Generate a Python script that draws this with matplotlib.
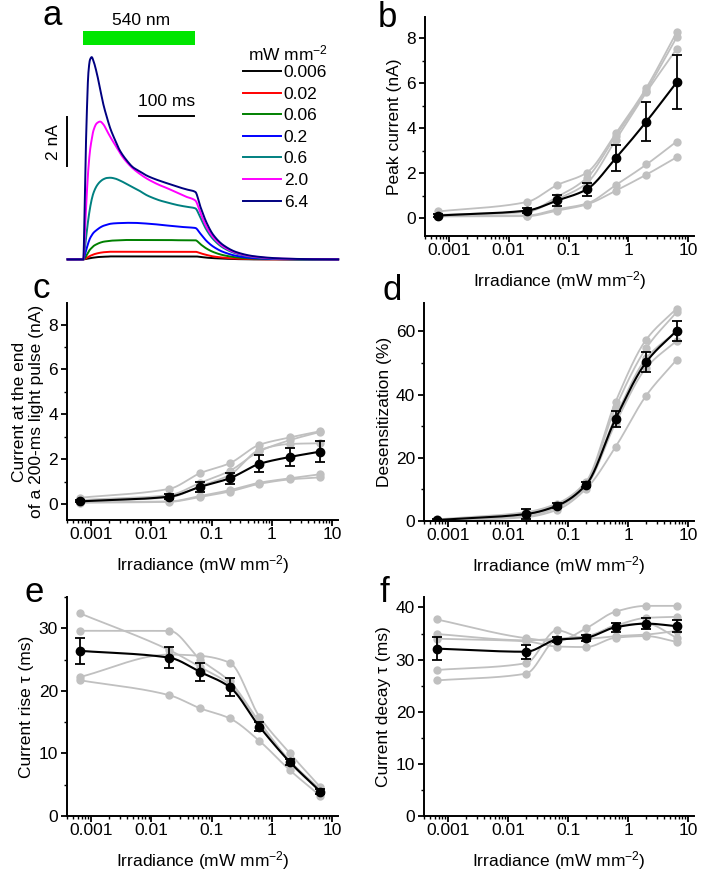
import numpy as np
import matplotlib
matplotlib.use("Agg")
import matplotlib.pyplot as plt
from matplotlib.patches import Rectangle
from matplotlib.ticker import FixedLocator, FixedFormatter, LogLocator, MultipleLocator, NullFormatter

plt.rcParams['font.family'] = ['Liberation Sans', 'DejaVu Sans']
plt.rcParams['mathtext.default'] = 'regular'

W, H = 702, 871

# --- panel a: photocurrent traces (ms, nA) ---
trace_t = [-28, 0, 3, 6, 9, 12, 15, 18, 24, 30, 36, 42, 48, 56, 65, 77, 89, 100,
           113, 125, 137, 150, 167, 183, 200, 209, 220, 232, 250, 274, 304, 350, 400, 455]
trace_labels = ["0.006", "0.02", "0.06", "0.2", "0.6", "2.0", "6.4"]
tr_0006 = [0, 0, 0.01, 0.02, 0.04, 0.05, 0.06, 0.07, 0.09, 0.1, 0.11, 0.11, 0.12, 0.12, 0.12, 0.12, 0.12, 0.12,
           0.12, 0.12, 0.12, 0.12, 0.12, 0.12, 0.12, 0.1, 0.07, 0.05, 0.03, 0.01, 0.0, 0, 0, 0]
tr_002 = [0, 0, 0.02, 0.06, 0.1, 0.14, 0.17, 0.2, 0.24, 0.27, 0.29, 0.3, 0.31, 0.31, 0.31, 0.31, 0.31, 0.31,
          0.31, 0.31, 0.31, 0.31, 0.31, 0.31, 0.31, 0.25, 0.18, 0.12, 0.07, 0.03, 0.01, 0, 0, 0]
tr_006 = [0, 0, 0.06, 0.18, 0.3, 0.4, 0.47, 0.54, 0.62, 0.68, 0.72, 0.74, 0.76, 0.77, 0.78, 0.79, 0.79, 0.79,
          0.79, 0.79, 0.79, 0.79, 0.78, 0.78, 0.78, 0.62, 0.44, 0.3, 0.17, 0.08, 0.03, 0.01, 0, 0]
tr_02 = [0, 0, 0.2, 0.45, 0.68, 0.86, 0.98, 1.08, 1.2, 1.3, 1.37, 1.41, 1.45, 1.47, 1.48, 1.49, 1.49, 1.48,
         1.46, 1.44, 1.41, 1.38, 1.34, 1.31, 1.28, 1.05, 0.75, 0.52, 0.3, 0.14, 0.05, 0.01, 0, 0]
tr_06 = [0, 0, 0.5, 1.1, 1.65, 2.1, 2.45, 2.7, 3.0, 3.17, 3.27, 3.32, 3.33, 3.3, 3.22, 3.08, 2.93, 2.8,
         2.62, 2.5, 2.4, 2.32, 2.22, 2.15, 2.08, 1.7, 1.2, 0.82, 0.47, 0.23, 0.09, 0.02, 0, 0]
tr_20 = [0, 0, 1.2, 2.6, 3.7, 4.45, 4.9, 5.25, 5.55, 5.62, 5.5, 5.25, 5.0, 4.7, 4.35, 3.98, 3.7, 3.5,
         3.3, 3.15, 3.02, 2.9, 2.72, 2.56, 2.4, 1.9, 1.32, 0.9, 0.52, 0.26, 0.11, 0.03, 0.01, 0]
tr_64 = [0, 0, 3.1, 5.8, 7.6, 8.15, 8.25, 8.1, 7.6, 6.95, 6.3, 5.8, 5.35, 4.9, 4.45, 4.05, 3.75, 3.6,
         3.42, 3.3, 3.2, 3.1, 2.97, 2.86, 2.75, 2.15, 1.5, 1.0, 0.58, 0.29, 0.13, 0.04, 0.01, 0]
traces = [tr_0006, tr_002, tr_006, tr_02, tr_06, tr_20, tr_64]
trace_colors = ["#000000", "#ff0000", "#008000", "#0000ff", "#008080", "#ff00ff", "#000080"]

# --- panels b-f: per-cell values (grey) and mean +/- sem (black) ---
irr = [0.00065, 0.02, 0.065, 0.2, 0.62, 2.0, 6.4]

peak_cells = [[0.30, 0.72, 1.48, 2.02, 3.78, 5.80, 8.27],
              [0.15, 0.30, 0.95, 1.78, 3.67, 5.68, 8.04],
              [0.12, 0.28, 0.85, 1.55, 3.50, 5.60, 7.53],
              [0.10, 0.12, 0.40, 0.65, 1.48, 2.39, 3.41],
              [0.08, 0.09, 0.34, 0.61, 1.23, 1.94, 2.71]]
peak_mean = [0.12, 0.34, 0.79, 1.28, 2.68, 4.30, 6.04]
peak_sem = [0.05, 0.12, 0.23, 0.28, 0.57, 0.87, 1.20]

end_cells = [[0.28, 0.68, 1.38, 1.82, 2.64, 2.97, 3.25],
             [0.18, 0.40, 0.95, 1.48, 2.35, 2.85, 3.22],
             [0.12, 0.30, 0.80, 1.30, 2.41, 2.68, 2.71],
             [0.08, 0.12, 0.36, 0.62, 0.95, 1.15, 1.33],
             [0.06, 0.10, 0.32, 0.56, 0.90, 1.10, 1.19]]
end_mean = [0.12, 0.33, 0.77, 1.15, 1.79, 2.10, 2.34]
end_sem = [0.05, 0.12, 0.21, 0.25, 0.38, 0.40, 0.47]

desens_cells = [[0.5, 2.8, 5.5, 12.5, 37.8, 57.4, 67.2],
                [0.3, 2.3, 5.0, 12.0, 36.0, 54.7, 66.1],
                [0.2, 2.0, 4.8, 11.8, 33.0, 51.5, 60.0],
                [0.1, 1.5, 4.2, 11.0, 31.0, 48.5, 57.0],
                [0.0, 1.2, 3.5, 10.2, 23.5, 39.7, 51.0]]
desens_mean = [0.3, 2.2, 4.8, 11.5, 32.4, 50.3, 60.2]
desens_sem = [0.3, 1.5, 0.8, 0.8, 2.5, 3.1, 3.1]

rise_cells = [[32.4, 26.5, 23.8, 21.0, 15.0, 8.8, 4.2],
              [29.6, 29.6, 25.0, 21.5, 15.0, 8.5, 3.9],
              [22.2, 25.8, 25.6, 24.5, 15.9, 10.0, 4.6],
              [21.7, 19.3, 17.2, 15.6, 12.0, 7.3, 3.2]]
rise_mean = [26.4, 25.3, 23.0, 20.6, 14.3, 8.6, 3.9]
rise_sem = [2.05, 1.7, 1.4, 1.45, 0.7, 0.5, 0.4]

decay_cells = [[37.7, 34.1, 33.5, 36.0, 39.2, 40.3, 40.3],
               [34.9, 33.7, 34.0, 34.5, 36.5, 38.0, 38.2],
               [34.0, 33.5, 32.5, 32.4, 34.2, 34.5, 33.4],
               [28.0, 29.3, 35.6, 34.0, 34.5, 34.8, 35.5],
               [26.0, 27.3, 33.8, 34.2, 36.5, 36.9, 34.2]]
decay_mean = [32.1, 31.5, 33.8, 34.2, 36.2, 36.9, 36.4]
decay_sem = [2.15, 1.35, 0.5, 0.6, 0.9, 1.0, 1.2]

GREY = "#c0c0c0"


def pchip(x, y, xs):
    # monotone cubic through the points, just for drawing smooth lines
    x = np.asarray(x, float); y = np.asarray(y, float)
    h = np.diff(x); d = np.diff(y) / h
    m = np.zeros_like(y)
    m[0], m[-1] = d[0], d[-1]
    for k in range(1, len(x) - 1):
        if d[k-1] * d[k] > 0:
            w1 = 2*h[k] + h[k-1]; w2 = h[k] + 2*h[k-1]
            m[k] = (w1 + w2) / (w1/d[k-1] + w2/d[k])
    i = np.clip(np.searchsorted(x, xs) - 1, 0, len(x) - 2)
    s = (xs - x[i]) / h[i]
    return ((2*s**3 - 3*s**2 + 1)*y[i] + (s**3 - 2*s**2 + s)*h[i]*m[i]
            + (-2*s**3 + 3*s**2)*y[i+1] + (s**3 - s**2)*h[i]*m[i+1])


def px_axes(fig, l, t, r, b):
    return fig.add_axes([l/W, 1 - b/H, (r - l)/W, (b - t)/H])


fig = plt.figure(figsize=(W/100, H/100), dpi=100)

# ---------- a ----------
ax = px_axes(fig, 0, 0, 351, 290)
ax.axis("off")
ax.set_xlim(-148.8, 478.0)
ax.set_ylim(-1.25, 10.58)
tt = np.linspace(trace_t[0], trace_t[-1], 1500)
for lab, tr, col in zip(trace_labels, traces, trace_colors):
    ax.plot(tt, pchip(trace_t, tr, tt), color=col, lw=1.4, label=lab)
ax.add_patch(Rectangle((0, 8.75), 200, 0.55, color="#00e600", lw=0))
ax.text(103, 9.75, "540 nm", ha="center", va="center", fontsize=12.5)
ax.plot([99, 197], [5.85, 5.85], color="k", lw=1.4)
ax.text(148, 6.45, "100 ms", ha="center", va="center", fontsize=12.5)
ax.plot([-29.6, -29.6], [3.8, 5.8], color="k", lw=1.4)
ax.text(-53, 4.8, "2 nA", ha="center", va="center", rotation=90, fontsize=12.5)
ax.text(288/351, 1 - 53/290, "mW mm$^{-2}$", transform=ax.transAxes,
        ha="center", va="center", fontsize=12.5)
leg = ax.legend(loc="upper left", bbox_to_anchor=(243/351, 1 - 65/290), frameon=False,
                fontsize=12.5, handlelength=2.2, handletextpad=0.15, labelspacing=0.37,
                borderpad=0, borderaxespad=0)


def dose_panel(ax, cells, mean, sem, ylim, major, minor, ylabel):
    lx = np.log10(irr)
    xs = np.linspace(lx[0], lx[-1], 300)
    for c in cells:
        ax.plot(10**xs, pchip(lx, c, xs), color=GREY, lw=1.3, zorder=1)
        ax.plot(irr, c, "o", color=GREY, ms=6, mec="none", zorder=2)
    ax.plot(10**xs, pchip(lx, mean, xs), color="k", lw=1.5, zorder=3)
    ax.errorbar(irr, mean, yerr=sem, fmt="o", color="k", ms=6, capsize=3.5,
                elinewidth=1.3, capthick=1.3, zorder=4)
    ax.set_xscale("log")
    ax.set_xlim(4e-4, 12.5)
    ax.set_ylim(*ylim)
    ax.xaxis.set_major_locator(FixedLocator([1e-3, 1e-2, 1e-1, 1, 10]))
    ax.xaxis.set_major_formatter(FixedFormatter(["0.001", "0.01", "0.1", "1", "10"]))
    ax.xaxis.set_minor_locator(LogLocator(base=10, subs=np.arange(2, 10)))
    ax.xaxis.set_minor_formatter(NullFormatter())
    ax.yaxis.set_major_locator(MultipleLocator(major))
    ax.yaxis.set_minor_locator(MultipleLocator(minor))
    for s in ["top", "right"]:
        ax.spines[s].set_visible(False)
    for s in ["left", "bottom"]:
        ax.spines[s].set_linewidth(1.4)
    ax.tick_params(which="major", length=4.5, width=1.3, labelsize=12.5)
    ax.tick_params(axis="x", which="major", pad=0.5)
    ax.tick_params(axis="y", which="major", pad=2)
    ax.tick_params(which="minor", length=2.5, width=1.0)
    ax.set_xlabel("Irradiance (mW mm$^{-2}$)", fontsize=12.5, labelpad=8)
    ax.set_ylabel(ylabel, fontsize=12.5, labelpad=3)


dose_panel(px_axes(fig, 425, 17, 694, 236), peak_cells, peak_mean, peak_sem,
           (-0.79, 8.95), 2, 1, "Peak current (nA)")
dose_panel(px_axes(fig, 67, 303, 338, 520), end_cells, end_mean, end_sem,
           (-0.71, 8.96), 2, 1, "Current at the end\nof a 200-ms light pulse (nA)")
dose_panel(px_axes(fig, 424, 303, 694, 521), desens_cells, desens_mean, desens_sem,
           (0, 69), 20, 10, "Desensitization (%)")
dose_panel(px_axes(fig, 67, 597, 338, 816), rise_cells, rise_mean, rise_sem,
           (0, 35), 10, 5, "Current rise τ (ms)")
dose_panel(px_axes(fig, 424, 597, 694, 816), decay_cells, decay_mean, decay_sem,
           (0, 42), 10, 5, "Current decay τ (ms)")

for letter, x, y in [("a", 42, 25), ("b", 378, 27), ("c", 32, 298),
                     ("d", 382, 300), ("e", 24, 602), ("f", 380, 602)]:
    fig.text(x/W, 1 - y/H, letter, fontsize=25, ha="left", va="baseline")

fig.savefig("out.png", dpi=100)
